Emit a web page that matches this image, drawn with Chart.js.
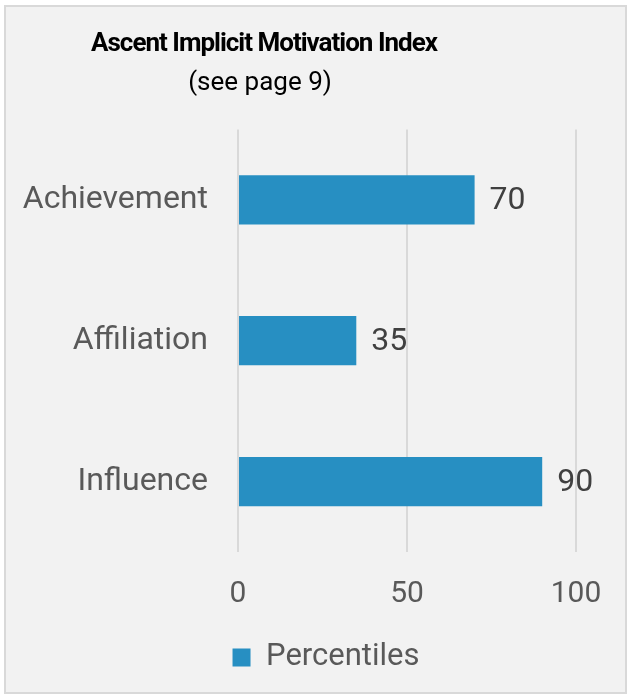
<!DOCTYPE html>
<html>
<head>
<meta charset="utf-8">
<script src="https://cdn.jsdelivr.net/npm/chart.js@4"></script>
<style>
  html, body { margin:0; padding:0; background:#fff; }
  #frame {
    position:absolute; left:4px; top:5px; width:619px; height:685px;
    background:#f2f2f2; border:2px solid #d9d9d9;
  }
  #wrap { position:absolute; left:0; top:0; width:629px; height:696px; }
</style>
</head>
<body>
<div id="frame"></div>
<div id="wrap"><canvas id="chart"></canvas></div>
<script>
// data
const categories = ["Achievement", "Affiliation", "Influence"];
const percentiles = [70, 35, 90];
const xTicks = [0, 50, 100];

const TITLE = "Ascent Implicit Motivation Index";
const SUBTITLE = "(see page 9)";

const FONT = "Roboto, 'Noto Sans', sans-serif";

// value labels at the bar ends
const barLabels = {
  id:'barLabels',
  afterDatasetsDraw(chart){
    const ctx = chart.ctx;
    const meta = chart.getDatasetMeta(0);
    ctx.save();
    ctx.font = "32px " + FONT;
    ctx.fillStyle = "#404040";
    ctx.textAlign = "left";
    ctx.textBaseline = "middle";
    meta.data.forEach((bar, i) => {
      ctx.fillText(String(chart.data.datasets[0].data[i]), bar.x + 15, bar.y + 1);
    });
    ctx.restore();
  }
};

// excel centres title and legend on different spans, nudge them sideways
// and squeeze the title a bit (original is a condensed bold)
const nudgeBlocks = {
  id:'nudgeBlocks',
  afterLayout(chart){
    const move = (box, dx) => { if(box){ box.left += dx; box.right += dx; } };
    chart.boxes.forEach(b => {
      if(b.options && b.options.text === TITLE){
        move(b, -24);
        if(!b._squeezed){
          const draw = b.draw;
          b.draw = function(){
            chart.ctx.save();
            chart.ctx.letterSpacing = "-1px";
            draw.apply(this, arguments);
            chart.ctx.restore();
          };
          b._squeezed = true;
        }
      }
      if(b.options && b.options.text === SUBTITLE) move(b, -28);
    });
    move(chart.legend, 38);
  }
};

new Chart(document.getElementById("chart"), {
  type:'bar',
  data:{
    labels:categories,
    datasets:[{
      label:"Percentiles",
      data:percentiles,
      backgroundColor:"#278fc2",
      borderWidth:0,
      categoryPercentage:1,
      barPercentage:0.35
    }]
  },
  options:{
    indexAxis:'y',
    responsive:true,
    maintainAspectRatio:false,
    animation:false,
    layout:{ padding:{ top:18, right:53, bottom:13, left:0 } },
    plugins:{
      title:{
        display:true,
        text:TITLE,
        color:"#000",
        font:{ family:FONT, size:26, weight:'bold' },
        padding:{ top:11, bottom:3 }
      },
      subtitle:{
        display:true,
        text:SUBTITLE,
        color:"#000",
        font:{ family:FONT, size:26 },
        padding:{ top:5, bottom:30 }
      },
      legend:{
        position:'bottom',
        labels:{
          color:"#595959",
          font:{ family:FONT, size:31 },
          boxWidth:18, boxHeight:18,
          padding:10
        }
      },
      tooltip:{ enabled:false }
    },
    scales:{
      x:{
        min:0, max:100,
        afterBuildTicks(axis){ axis.ticks = xTicks.map(v => ({ value:v })); },
        afterFit(axis){ axis.height = 80; },
        grid:{ color:"#d9d9d9", lineWidth:2, drawTicks:false },
        border:{ display:false },
        ticks:{ color:"#595959", font:{ family:FONT, size:30 }, padding:24 }
      },
      y:{
        afterFit(axis){ axis.width = 238; },
        grid:{ display:false },
        border:{ display:false },
        ticks:{ color:"#595959", font:{ family:FONT, size:32 }, padding:22 }
      }
    }
  },
  plugins:[barLabels, nudgeBlocks]
});
</script>
</body>
</html>
